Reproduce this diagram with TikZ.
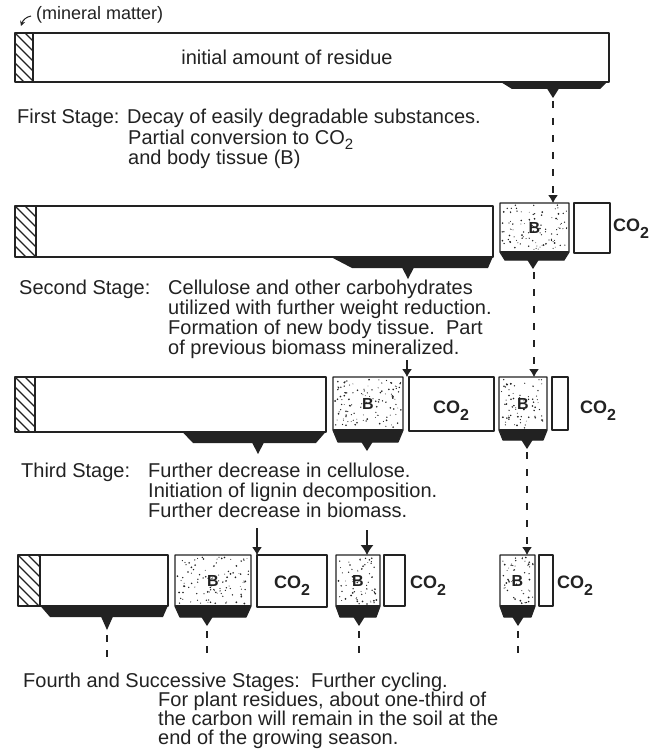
\documentclass[tikz,border=0pt]{standalone}
\usepackage{fontspec}
\setmainfont{Liberation Sans}
\usetikzlibrary{arrows.meta}
\definecolor{ink}{HTML}{222222}
\newcommand\bodyfont{\fontsize{20}{20}\selectfont}
\newcommand\cofont{\fontsize{18}{18}\selectfont\bfseries}
\newcommand\subtwo{\raisebox{-7pt}{\fontsize{16}{16}\selectfont 2}}
\newcommand\bodysub{\raisebox{-5pt}{\fontsize{15}{15}\selectfont 2}}
\newcommand\stip[5]{%
  \foreach \k in {1,...,#5}{%
    \pgfmathsetmacro\sx{#1+2+rnd*(#2-#1-4)}%
    \pgfmathsetmacro\sy{#3+2+rnd*(#4-#3-4)}%
    \pgfmathsetmacro\sr{0.4+0.6*rnd}%
    \fill[ink] (\sx,\sy) circle[radius=\sr pt];}}
\newcommand\hatchbox[4]{%
  \begin{scope}
    \clip (#1,#3) rectangle (#2,#4);
    \foreach \t in {-80,-70,...,30}{\draw[ink,line width=1.3pt] (#1+\t,#3) -- ++(80,80);}
  \end{scope}}
% name, x1, x2, ytop, ywhite, ydark, inset, tipx, ndots
\newcommand\bstack[9]{%
  \stip{#2}{#3}{#4}{#5}{#9}
  \fill[ink] (#2,#5-1) -- (#3,#5-1) -- (#3-#7,#6) -- (#2+#7,#6) -- cycle;
  \fill[ink] (#8-6,#6-0.5) -- (#8+6,#6-0.5) -- (#8,#6+9) -- cycle;
  \draw[boxline] (#2,#5) -- (#2,#4) -- (#3,#4) -- (#3,#5) -- (#3-#7,#6) -- (#2+#7,#6) -- cycle;
  \node[blabel] (#1) at ({(#2+#3)/2},{(#4+#5)/2}) {B};
  \coordinate (#1tip) at (#8,#6+9);}
\begin{document}
\begin{tikzpicture}[x=1pt,y=-1pt,
  boxline/.style={draw=ink,line width=1.3pt,line join=round},
  body/.style={anchor=base west,inner sep=0pt,font=\bodyfont,text=ink},
  blabel/.style={inner sep=0pt,font=\fontsize{16}{16}\selectfont\bfseries,text=ink},
  colabel/.style={anchor=base west,inner sep=0pt,font=\cofont,text=ink},
  dashconn/.style={draw=ink,line width=1.2pt,dash pattern=on 7pt off 10pt,-{Latex[length=8pt,width=10pt]}},
  solidconn/.style={draw=ink,line width=1.1pt,-{Latex[length=8pt,width=10pt]}},
  stub/.style={draw=ink,line width=1.2pt,dash pattern=on 7pt off 8pt}]
\pgfmathsetseed{4}
\fill[white] (0,0) rectangle (650,749);
\useasboundingbox (0,0) rectangle (650,749);

% ---------------- Row 1
\node[anchor=base west,inner sep=0pt,font=\fontsize{18}{18}\selectfont,text=ink] (mineral) at (36,20) {(mineral matter)};
\draw[ink,line width=1pt,-{Stealth[length=5pt,width=5pt]}] (31,16) .. controls (26,17) and (23,20) .. (21,26);
\hatchbox{15}{33}{33}{82}
\fill[ink] (500,81.5) -- (609,81.5) -- (609,80) -- (600,89) -- (512,89) -- cycle;
\fill[ink] (547,88.5) -- (559,88.5) -- (553,98) -- cycle;
\draw[boxline] (15,33) rectangle (609,82);
\draw[boxline] (33,33) -- (33,82);
\node[anchor=base,inner sep=0pt,font=\bodyfont,text=ink] (initial) at (287,65) {initial amount of residue};
\coordinate (r1tip) at (553,98);

\node[body] (s1a) at (17,124) {First Stage:};
\node[body] (s1b) at (127,124) {Decay of easily degradable substances.};
\node[body] (s1c) at (128,144) {Partial conversion to CO\bodysub};
\node[body] (s1d) at (128,164) {and body tissue (B)};

% ---------------- Row 2
\hatchbox{15}{36}{206}{257}
\fill[ink] (330,256.5) -- (493,256.5) -- (488,268) -- (352,268) -- cycle;
\fill[ink] (402,267.5) -- (414,267.5) -- (408,279) -- cycle;
\draw[boxline] (15,206) rectangle (493,257);
\draw[boxline] (36,206) -- (36,257);
\coordinate (r2bartip) at (408,279);
\bstack{b2}{500}{569}{203}{252}{260}{5}{533}{100}
\draw[boxline] (574,203) rectangle (610,253);
\node[colabel] (co2a) at (613,231) {CO\subtwo};
\coordinate (b2top) at (553,203);
\draw[dashconn] (r1tip) ++(0,3) -- (b2top);

\node[body] (s2a) at (19,294) {Second Stage:};
\node[body] (s2b) at (168,294) {Cellulose and other carbohydrates};
\node[body] (s2c) at (168,314) {utilized with further weight reduction.};
\node[body] (s2d) at (168,334) {Formation of new body tissue.\ \ Part};
\node[body] (s2e) at (168,354) {of previous biomass mineralized.};

% ---------------- Row 3
\hatchbox{15}{35}{377}{432}
\fill[ink] (182,431.5) -- (326,431.5) -- (316,443) -- (193,443) -- cycle;
\fill[ink] (252,442.5) -- (264,442.5) -- (258,454) -- cycle;
\draw[boxline] (15,377) rectangle (326,432);
\draw[boxline] (35,377) -- (35,432);
\coordinate (r3bartip) at (258,454);
\bstack{b3a}{333}{403}{377}{430}{442}{5}{367}{115}
\draw[boxline] (409,377) rectangle (494,431);
\node[colabel,anchor=base] (co2b) at (451,413) {CO\subtwo};
\bstack{b3b}{499}{547}{377}{430}{440}{4}{527}{75}
\draw[boxline] (552,377) rectangle (568,430);
\node[colabel] (co2c) at (580,413) {CO\subtwo};
\coordinate (co2btop) at (407,377);
\coordinate (co2bfrom) at (407,360);
\draw[solidconn] (co2bfrom) -- (co2btop);
\coordinate (b3btop) at (534,377);
\draw[dashconn] (b2tip) ++(1,3) -- (b3btop);

\node[body] (s3a) at (21,477) {Third Stage:};
\node[body] (s3b) at (148,477) {Further decrease in cellulose.};
\node[body] (s3c) at (148,497) {Initiation of lignin decomposition.};
\node[body] (s3d) at (148,517) {Further decrease in biomass.};

% ---------------- Row 4
\hatchbox{18}{40}{555}{606}
\fill[ink] (40,605.5) -- (168,605.5) -- (163,617) -- (50,617) -- cycle;
\fill[ink] (101,616.5) -- (113,616.5) -- (107,630) -- cycle;
\draw[boxline] (18,555) rectangle (168,606);
\draw[boxline] (40,555) -- (40,606);
\coordinate (r4bartip) at (107,630);
\bstack{b4a}{175}{251}{555}{606}{617}{5}{207}{105}
\draw[boxline] (257,555) rectangle (327,607);
\node[colabel,anchor=base] (co2d) at (292,588) {CO\subtwo};
\bstack{b4b}{336}{380}{555}{606}{617}{4}{359}{65}
\draw[boxline] (384,555) rectangle (405,606);
\node[colabel] (co2e) at (410,588) {CO\subtwo};
\bstack{b4c}{500}{535}{555}{606}{617}{4}{518}{55}
\draw[boxline] (539,555) rectangle (553,606);
\node[colabel] (co2f) at (557,588) {CO\subtwo};

\coordinate (co2dfrom) at (257,528);
\coordinate (co2dtop) at (257,555);
\draw[solidconn] (co2dfrom) -- (co2dtop);
\coordinate (b4bfrom) at (367,530);
\coordinate (b4btop) at (367,555);
\draw[draw=ink,line width=1.1pt,-{Latex[length=10pt,width=13pt]}] (b4bfrom) -- (b4btop);
\coordinate (b4ctop) at (527,555);
\draw[dashconn] (b3btip) ++(0,3) -- (b4ctop);

\foreach \n in {r4bartip,b4atip,b4btip,b4ctip}{\draw[stub] (\n) ++(0,5) -- ++(0,24);}

\node[body] (s4a) at (23,687) {Fourth and Successive Stages:\ \ Further cycling.};
\node[body] (s4b) at (158,706) {For plant residues, about one-third of};
\node[body] (s4c) at (158,725) {the carbon will remain in the soil at the};
\node[body] (s4d) at (158,744) {end of the growing season.};
\end{tikzpicture}
\end{document}
